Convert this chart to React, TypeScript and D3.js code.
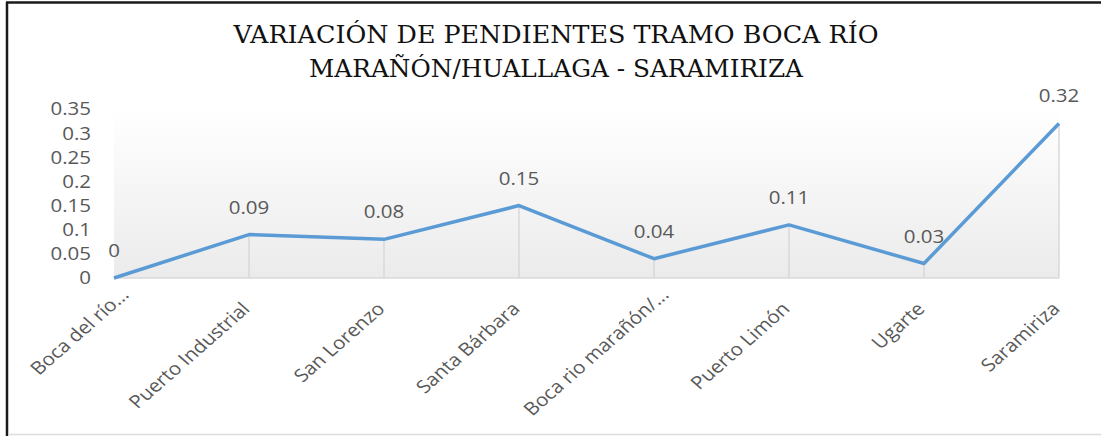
import { useEffect } from "react";
import * as d3 from "d3";

const categories = [
  "Boca del río...",
  "Puerto Industrial",
  "San Lorenzo",
  "Santa Bárbara",
  "Boca rio marañón/...",
  "Puerto Limón",
  "Ugarte",
  "Saramiriza",
];
const pendientes = [0, 0.09, 0.08, 0.15, 0.04, 0.11, 0.03, 0.32];
const yTicks = [0, 0.05, 0.1, 0.15, 0.2, 0.25, 0.3, 0.35];
const titleLines = [
  "VARIACIÓN DE PENDIENTES TRAMO BOCA RÍO",
  "MARAÑÓN/HUALLAGA - SARAMIRIZA",
];

const W = 1101;
const H = 436;
const margin = { top: 109, right: 42, bottom: 158, left: 114 };
const labelColor = "#595959";
const labelFont = "'Open Sans', sans-serif";
const labelSize = 18;
// the source picture is a bit wider than tall, so the text is stretched too
const stretch = 1.14;

export default function App() {
  useEffect(() => {
    document.body.style.margin = "0";
  }, []);

  const x = d3
    .scalePoint<string>()
    .domain(categories)
    .range([margin.left, W - margin.right]);
  const y = d3
    .scaleLinear()
    .domain([0, 0.35])
    .range([H - margin.bottom, margin.top]);

  const line = d3
    .line<number>()
    .x((_, i) => x(categories[i]) ?? 0)
    .y((d) => y(d));

  const x0 = margin.left;
  const x1 = W - margin.right;
  const yBase = y(0);

  return (
    <svg width={W} height={H} style={{ display: "block" }}>
      <defs>
        <linearGradient id="plotBg" x1="0" y1="0" x2="0" y2="1">
          <stop offset="0" stopColor="#ffffff" />
          <stop offset="1" stopColor="#ebebeb" />
        </linearGradient>
      </defs>
      <rect width={W} height={H} fill="#fff" />

      {/* frame */}
      <line x1={6} y1={2.5} x2={W} y2={2.5} stroke="#1a1a1a" strokeWidth={2.5} />
      <line x1={7} y1={2} x2={7} y2={H} stroke="#1a1a1a" strokeWidth={2.5} />
      <line x1={8} y1={H - 1.5} x2={W} y2={H - 1.5} stroke="#dcdcdc" strokeWidth={1.5} />

      {/* title */}
      {titleLines.map((t, i) => (
        <text
          key={t}
          x={556}
          y={43 + i * 34}
          textAnchor="middle"
          fontFamily="'DejaVu Serif', serif"
          fontSize={25}
          fill="#111"
          textLength={i === 0 ? 645 : 494}
          lengthAdjust="spacingAndGlyphs"
        >
          {t}
        </text>
      ))}

      {/* plot area */}
      <rect x={x0} y={y(0.35)} width={x1 - x0} height={yBase - y(0.35)} fill="url(#plotBg)" />
      <line x1={x0} y1={yBase} x2={x1} y2={yBase} stroke="#d9d9d9" strokeWidth={1.5} />

      {/* drop lines */}
      {pendientes.map((v, i) => (
        <line
          key={"d" + i}
          x1={x(categories[i])}
          x2={x(categories[i])}
          y1={y(v)}
          y2={yBase}
          stroke="#d9d9d9"
          strokeWidth={1.5}
        />
      ))}

      {/* y axis labels */}
      {yTicks.map((t) => (
        <text
          key={t}
          transform={`translate(91,${y(t)}) scale(${stretch},1)`}
          dy="0.36em"
          textAnchor="end"
          fontFamily={labelFont}
          fontSize={labelSize}
          fill={labelColor}
        >
          {String(t)}
        </text>
      ))}

      {/* series */}
      <path
        d={line(pendientes) ?? ""}
        fill="none"
        stroke="#5b9bd5"
        strokeWidth={3.5}
        strokeLinejoin="round"
      />

      {/* data labels */}
      {pendientes.map((v, i) => (
        <text
          key={"v" + i}
          transform={`translate(${x(categories[i])},${y(v) - 21}) scale(${stretch},1)`}
          textAnchor="middle"
          fontFamily={labelFont}
          fontSize={labelSize}
          fill={labelColor}
        >
          {String(v)}
        </text>
      ))}

      {/* category labels, truncated ones sit a little further along */}
      {categories.map((c) => {
        const shift = c.endsWith("...") ? 14 : 0;
        const cx = (x(c) ?? 0) + 2 + shift;
        const cy = 310 - shift;
        return (
          <text
            key={c}
            transform={`translate(${cx},${cy}) scale(${stretch},1) rotate(-45)`}
            textAnchor="end"
            fontFamily={labelFont}
            fontSize={labelSize}
            fill={labelColor}
          >
            {c}
          </text>
        );
      })}
    </svg>
  );
}
